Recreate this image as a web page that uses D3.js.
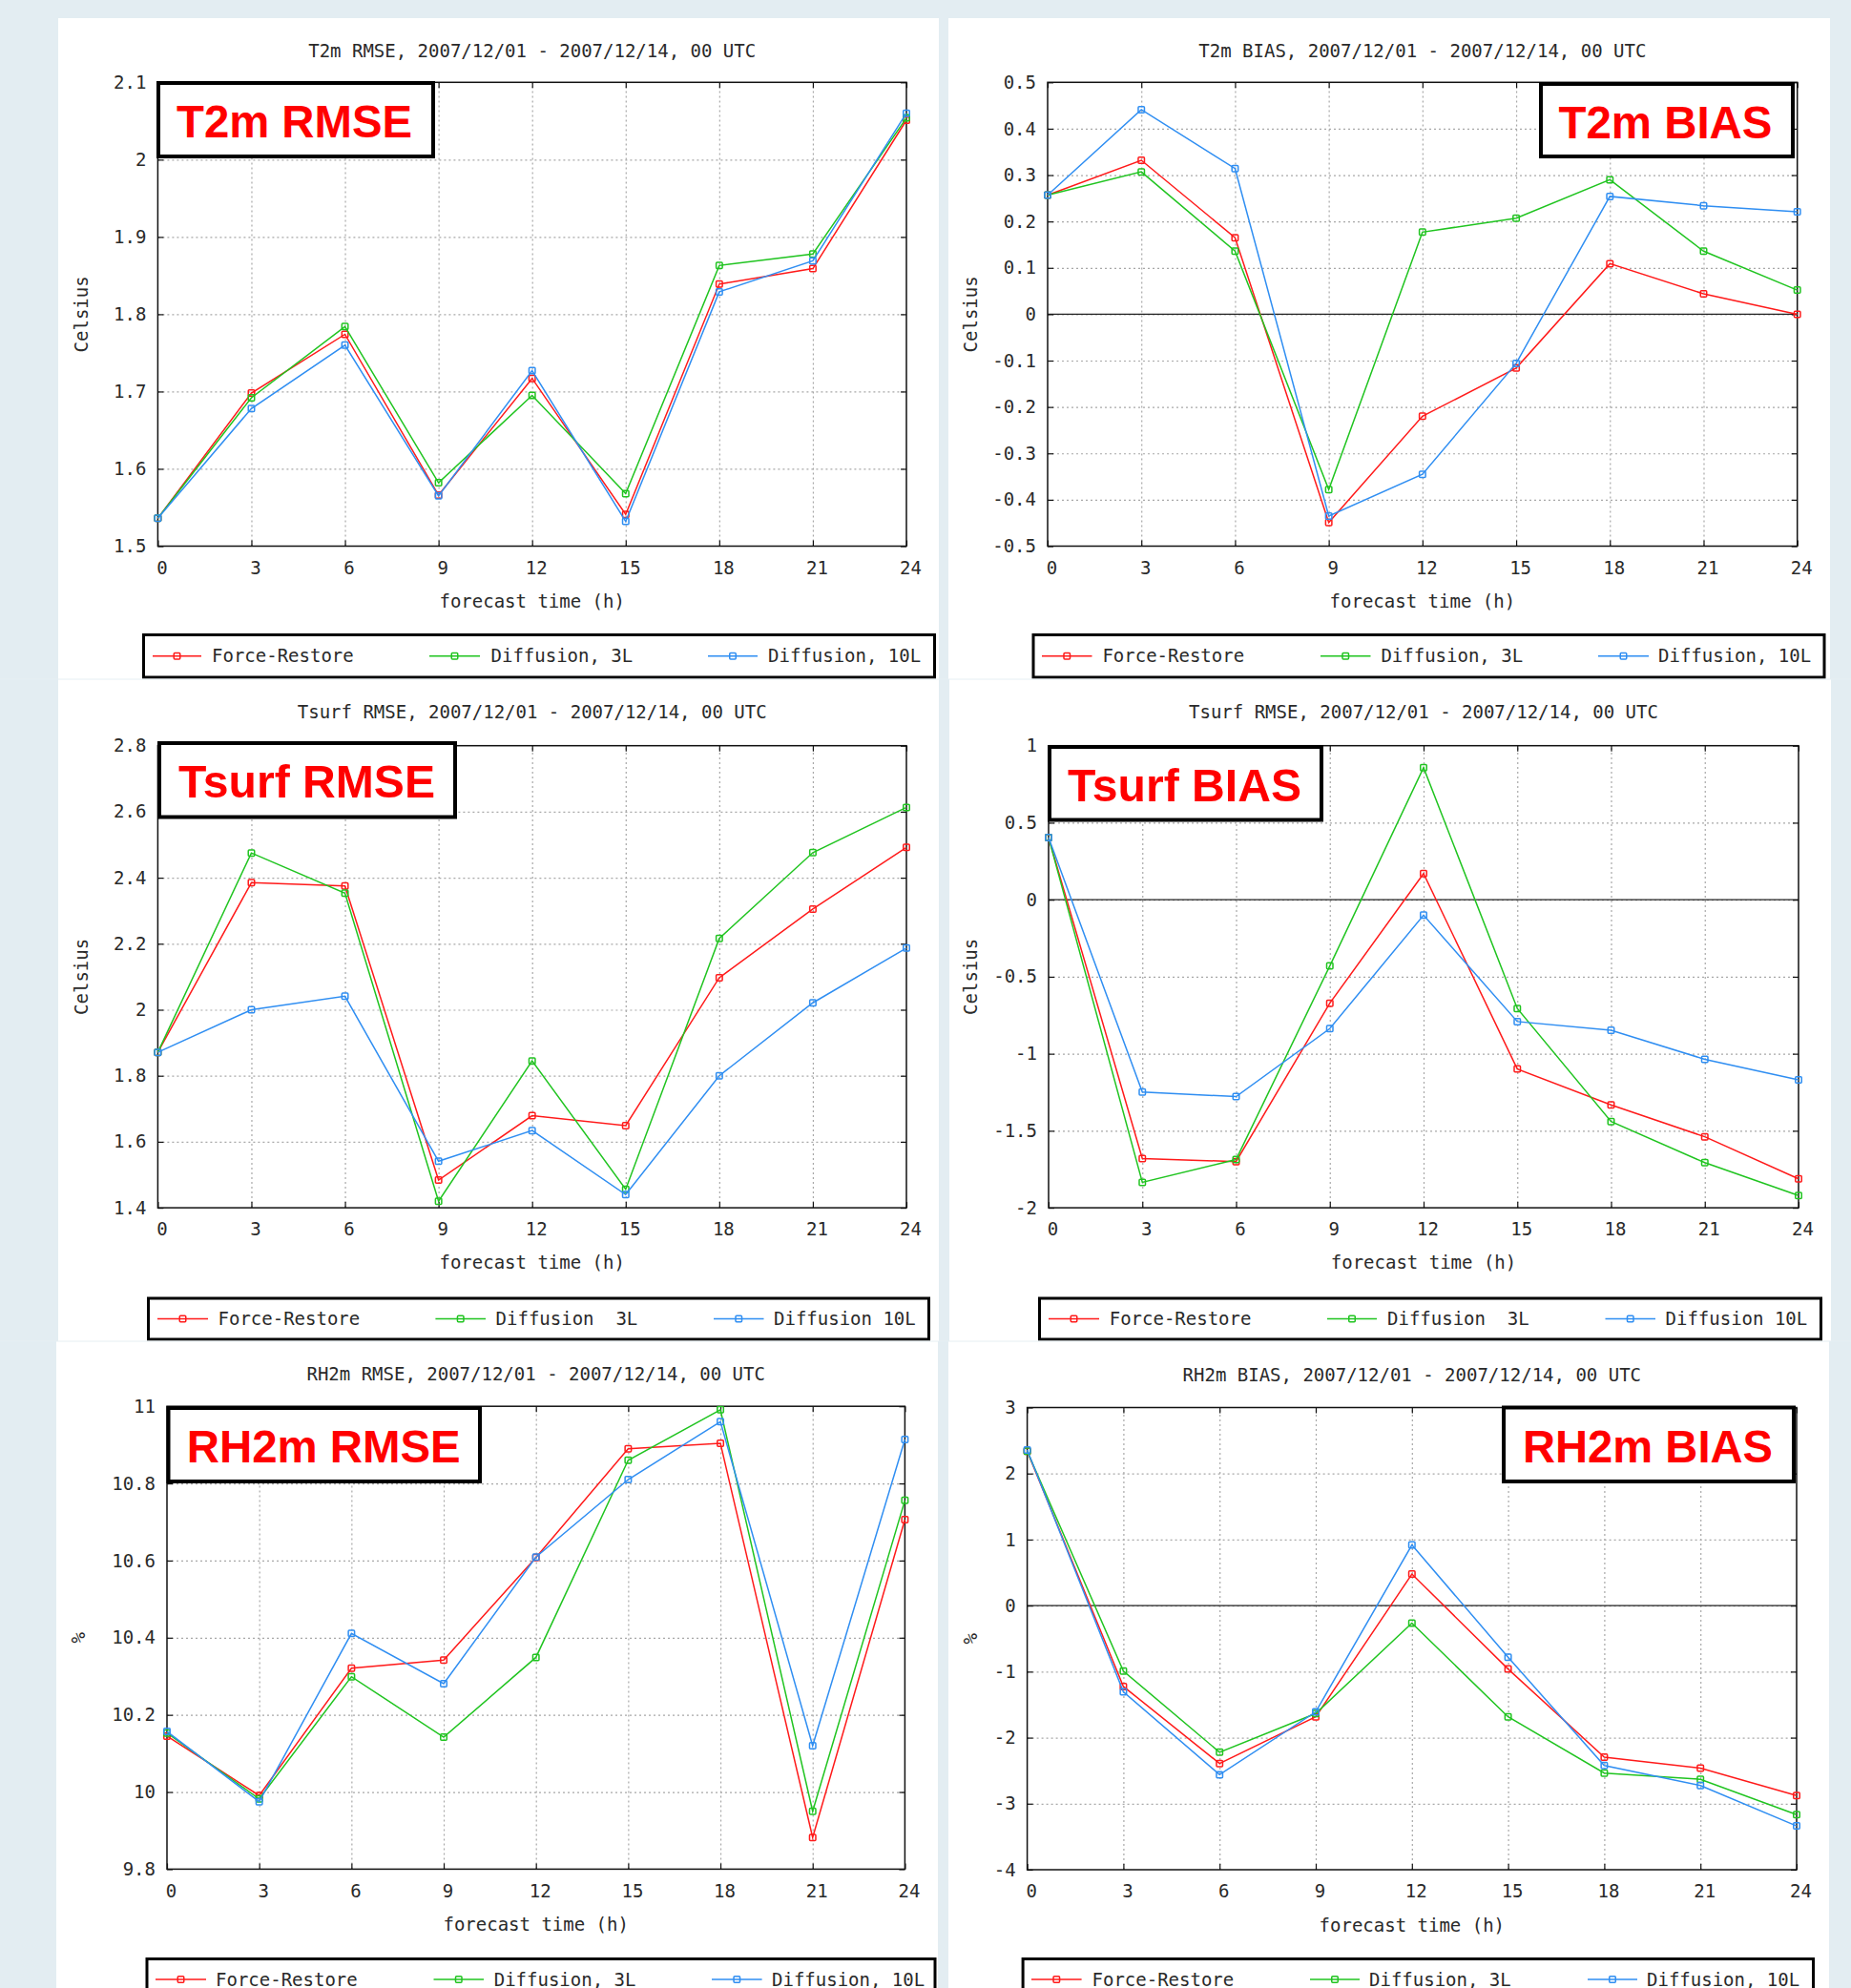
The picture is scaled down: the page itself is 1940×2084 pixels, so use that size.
<!DOCTYPE html>
<html>
<head>
<meta charset="utf-8">
<script src="https://cdn.jsdelivr.net/npm/d3@7"></script>
<style>
  body { margin: 0; background: #e3edf2; }
  svg text { font-family: "DejaVu Sans Mono", monospace; fill: #2a2a2a; }
</style>
</head>
<body>
<div id="chart"></div>
<script>
// forecast hours (x axis)
const hours = [0, 3, 6, 9, 12, 15, 18, 21, 24];

const legendNames = ["Force-Restore", "Diffusion, 3L", "Diffusion, 10L"];
const legendNamesTsurf = ["Force-Restore", "Diffusion  3L", "Diffusion 10L"];
const colors = ["#ff1a1a", "#20c420", "#2f8ef2"];

// T2m RMSE
const t2mRmseTicks = [1.5, 1.6, 1.7, 1.8, 1.9, 2.0, 2.1];
const t2mRmseFR  = [1.536, 1.698, 1.774, 1.566, 1.717, 1.541, 1.839, 1.859, 2.051];
const t2mRmse3L  = [1.536, 1.692, 1.784, 1.582, 1.695, 1.568, 1.863, 1.878, 2.054];
const t2mRmse10L = [1.536, 1.678, 1.760, 1.565, 1.727, 1.532, 1.829, 1.869, 2.060];

// T2m BIAS
const t2mBiasTicks = [-0.5, -0.4, -0.3, -0.2, -0.1, 0, 0.1, 0.2, 0.3, 0.4, 0.5];
const t2mBiasFR  = [0.257, 0.332, 0.165, -0.449, -0.220, -0.116, 0.109, 0.044, 0.000];
const t2mBias3L  = [0.257, 0.307, 0.136, -0.378, 0.177, 0.207, 0.290, 0.136, 0.052];
const t2mBias10L = [0.257, 0.441, 0.314, -0.435, -0.345, -0.106, 0.254, 0.234, 0.221];

// Tsurf RMSE
const tsRmseTicks = [1.4, 1.6, 1.8, 2.0, 2.2, 2.4, 2.6, 2.8];
const tsRmseFR  = [1.871, 2.385, 2.375, 1.484, 1.679, 1.649, 2.097, 2.305, 2.492];
const tsRmse3L  = [1.871, 2.475, 2.353, 1.420, 1.845, 1.456, 2.216, 2.476, 2.613];
const tsRmse10L = [1.871, 2.000, 2.041, 1.541, 1.634, 1.440, 1.800, 2.021, 2.187];

// Tsurf BIAS
const tsBiasTicks = [-2, -1.5, -1, -0.5, 0, 0.5, 1];
const tsBiasFR  = [0.403, -1.680, -1.700, -0.672, 0.170, -1.099, -1.332, -1.539, -1.812];
const tsBias3L  = [0.403, -1.835, -1.687, -0.430, 0.858, -0.706, -1.440, -1.707, -1.920];
const tsBias10L = [0.403, -1.249, -1.278, -0.837, -0.100, -0.791, -0.848, -1.036, -1.170];

// RH2m RMSE
const rhRmseTicks = [9.8, 10, 10.2, 10.4, 10.6, 10.8, 11];
const rhRmseFR  = [10.145, 9.991, 10.321, 10.342, 10.608, 10.890, 10.904, 9.882, 10.706];
const rhRmse3L  = [10.153, 9.982, 10.299, 10.142, 10.349, 10.860, 10.991, 9.950, 10.756];
const rhRmse10L = [10.157, 9.975, 10.411, 10.281, 10.609, 10.810, 10.960, 10.120, 10.914];

// RH2m BIAS
const rhBiasTicks = [-4, -3, -2, -1, 0, 1, 2, 3];
const rhBiasFR  = [2.338, -1.225, -2.391, -1.685, 0.478, -0.960, -2.296, -2.460, -2.876];
const rhBias3L  = [2.338, -0.991, -2.221, -1.634, -0.266, -1.685, -2.536, -2.630, -3.166];
const rhBias10L = [2.357, -1.306, -2.561, -1.609, 0.919, -0.783, -2.422, -2.725, -3.337];

const W = 1940, H = 2084;

const panels = [
  { title: "T2m RMSE, 2007/12/01 - 2007/12/14, 00 UTC", label: "T2m RMSE", ylabel: "Celsius",
    ticks: t2mRmseTicks, series: [t2mRmseFR, t2mRmse3L, t2mRmse10L], names: legendNames, zero: false,
    bg: [61, 19, 984, 712], plot: [165.4, 86.3, 950, 572.5], ylabX: 85,
    titleY: 53, xtickY: 595.5, xlabY: 630,
    box: [164, 85, 456, 166], boxText: [185, 247],
    legend: [149, 664, 981, 711.5], legX: [[160, 211, 222], [450, 503, 514.5], [742, 794, 805]] },
  { title: "T2m BIAS, 2007/12/01 - 2007/12/14, 00 UTC", label: "T2m BIAS", ylabel: "Celsius",
    ticks: t2mBiasTicks, series: [t2mBiasFR, t2mBias3L, t2mBias10L], names: legendNames, zero: true,
    bg: [994, 19, 1918, 712], plot: [1098, 86.3, 1883.7, 572.5], ylabX: 1017,
    titleY: 53, xtickY: 595.5, xlabY: 630,
    box: [1613, 86, 1881, 166], boxText: [1633.5, 224],
    legend: [1081.5, 664, 1913.5, 711.5], legX: [[1092, 1144.5, 1155.4], [1384, 1436.5, 1447.4], [1675, 1728, 1738]] },
  { title: "Tsurf RMSE, 2007/12/01 - 2007/12/14, 00 UTC", label: "Tsurf RMSE", ylabel: "Celsius",
    ticks: tsRmseTicks, series: [tsRmseFR, tsRmse3L, tsRmse10L], names: legendNamesTsurf, zero: false,
    bg: [61, 712, 984, 1406], plot: [165.4, 781.7, 950, 1266.1], ylabX: 85,
    titleY: 746, xtickY: 1289, xlabY: 1323.5,
    box: [165, 777, 479, 858.5], boxText: [187, 269],
    legend: [154, 1359.5, 975, 1405.5], legX: [[165, 218, 228.5], [456.4, 509, 519.6], [748, 800.5, 811]] },
  { title: "Tsurf RMSE, 2007/12/01 - 2007/12/14, 00 UTC", label: "Tsurf BIAS", ylabel: "Celsius",
    ticks: tsBiasTicks, series: [tsBiasFR, tsBias3L, tsBias10L], names: legendNamesTsurf, zero: true,
    bg: [995, 712, 1919, 1406], plot: [1099, 781.7, 1885, 1266.1], ylabX: 1017,
    titleY: 746, xtickY: 1289, xlabY: 1323.5,
    box: [1098, 781, 1387, 861.5], boxText: [1119, 245],
    legend: [1088, 1359.5, 1910, 1405.5], legX: [[1099, 1152, 1162.7], [1391, 1443, 1454], [1682.5, 1735, 1745.5]] },
  { title: "RH2m RMSE, 2007/12/01 - 2007/12/14, 00 UTC", label: "RH2m RMSE", ylabel: "%",
    ticks: rhRmseTicks, series: [rhRmseFR, rhRmse3L, rhRmse10L], names: legendNames, zero: false,
    bg: [59, 1406, 983, 2084], plot: [175, 1474.2, 948.4, 1959.4], ylabX: 82,
    titleY: 1440, xtickY: 1982.5, xlabY: 2017,
    box: [174.5, 1474, 505, 1555], boxText: [195.7, 287],
    legend: [152.5, 2052, 981.5, 2110], legX: [[163, 216, 226], [454.5, 507, 517.7], [746, 798.6, 809]], legY: 2075 },
  { title: "RH2m BIAS, 2007/12/01 - 2007/12/14, 00 UTC", label: "RH2m BIAS", ylabel: "%",
    ticks: rhBiasTicks, series: [rhBiasFR, rhBias3L, rhBias10L], names: legendNames, zero: true,
    bg: [994, 1406, 1917, 2084], plot: [1076.6, 1475.5, 1883, 1960], ylabX: 1017,
    titleY: 1441.5, xtickY: 1983, xlabY: 2018,
    box: [1574, 1473.5, 1882, 1555], boxText: [1596, 262],
    legend: [1070.6, 2052, 1902, 2110], legX: [[1081, 1133.6, 1144.5], [1373, 1425, 1435], [1664, 1716, 1726]], legY: 2075 }
];

const svg = d3.select("#chart").append("svg")
  .attr("width", W)
  .attr("height", H)
  .style("display", "block");

svg.append("rect").attr("width", W).attr("height", H).attr("fill", "#e3edf2");

const fmt = d => String(+(+d).toFixed(1));

function marker(g, cx, cy, color) {
  g.append("rect")
    .attr("x", cx - 3.25).attr("y", cy - 3.25)
    .attr("width", 6.5).attr("height", 6.5)
    .attr("rx", 1)
    .attr("fill", "none")
    .attr("stroke", color)
    .attr("stroke-width", 1.5);
}

panels.forEach(p => {
  const g = svg.append("g");
  const [bx0, by0, bx1, by1] = p.bg;
  g.append("rect")
    .attr("x", bx0).attr("y", by0)
    .attr("width", bx1 - bx0).attr("height", by1 - by0)
    .attr("fill", "white");

  const [x0, y0, x1, y1] = p.plot;
  const x = d3.scaleLinear().domain([0, 24]).range([x0, x1]);
  const y = d3.scaleLinear().domain([p.ticks[0], p.ticks[p.ticks.length - 1]]).range([y1, y0]);

  // dotted grid
  const gridX = g.append("g")
    .attr("transform", `translate(0,${y1})`)
    .call(d3.axisBottom(x).tickValues(hours.slice(1, -1)).tickSize(-(y1 - y0)).tickFormat(""));
  const gridY = g.append("g")
    .attr("transform", `translate(${x0},0)`)
    .call(d3.axisLeft(y).tickValues(p.ticks.slice(1, -1)).tickSize(-(x1 - x0)).tickFormat(""));
  [gridX, gridY].forEach(gr => {
    gr.select(".domain").remove();
    gr.selectAll("line")
      .attr("stroke", "#a8a8a8")
      .attr("stroke-width", 1.2)
      .attr("stroke-dasharray", "2,3");
  });

  if (p.zero) {
    g.append("line")
      .attr("x1", x0).attr("x2", x1)
      .attr("y1", y(0)).attr("y2", y(0))
      .attr("stroke", "#222")
      .attr("stroke-width", 1.3);
  }

  // inward ticks on all four sides
  const tickAxes = [
    [d3.axisBottom(x).tickValues(hours), `translate(0,${y1})`],
    [d3.axisTop(x).tickValues(hours), `translate(0,${y0})`],
    [d3.axisLeft(y).tickValues(p.ticks), `translate(${x0},0)`],
    [d3.axisRight(y).tickValues(p.ticks), `translate(${x1},0)`]
  ];
  tickAxes.forEach(([ax, tr]) => {
    const t = g.append("g").attr("transform", tr).call(ax.tickSize(-6).tickFormat(""));
    t.select(".domain").remove();
    t.selectAll("line").attr("stroke", "#111").attr("stroke-width", 1.2);
  });

  // tick labels
  const xl = g.append("g")
    .attr("transform", `translate(0,${y1})`)
    .call(d3.axisBottom(x).tickValues(hours).tickSize(0).tickPadding(p.xtickY - y1 - 7));
  xl.select(".domain").remove();
  xl.selectAll("text").attr("font-size", 19).attr("dx", 4).attr("fill", "#2a2a2a")
    .attr("font-family", "DejaVu Sans Mono, monospace");

  const yl = g.append("g")
    .attr("transform", `translate(${x0},0)`)
    .call(d3.axisLeft(y).tickValues(p.ticks).tickSize(0).tickPadding(12).tickFormat(fmt));
  yl.select(".domain").remove();
  yl.selectAll("text").attr("font-size", 19).attr("fill", "#2a2a2a")
    .attr("font-family", "DejaVu Sans Mono, monospace");

  // border
  g.append("rect")
    .attr("x", x0).attr("y", y0)
    .attr("width", x1 - x0).attr("height", y1 - y0)
    .attr("fill", "none")
    .attr("stroke", "#111")
    .attr("stroke-width", 1.5);

  // titles
  g.append("text")
    .attr("x", (x0 + x1) / 2).attr("y", p.titleY).attr("dy", "0.35em")
    .attr("text-anchor", "middle").attr("font-size", 19)
    .text(p.title);
  g.append("text")
    .attr("x", (x0 + x1) / 2).attr("y", p.xlabY).attr("dy", "0.35em")
    .attr("text-anchor", "middle").attr("font-size", 19)
    .text("forecast time (h)");
  g.append("text")
    .attr("transform", `translate(${p.ylabX},${(y0 + y1) / 2}) rotate(-90)`)
    .attr("dy", "0.35em")
    .attr("text-anchor", "middle").attr("font-size", 19)
    .text(p.ylabel);

  // series
  const line = d3.line().x((d, i) => x(hours[i])).y(d => y(d));
  p.series.forEach((s, k) => {
    g.append("path")
      .datum(s)
      .attr("d", line)
      .attr("fill", "none")
      .attr("stroke", colors[k])
      .attr("stroke-width", 1.5);
    s.forEach((v, i) => marker(g, x(hours[i]), y(v), colors[k]));
  });

  // big label box
  const [lx0, ly0, lx1, ly1] = p.box;
  g.append("rect")
    .attr("x", lx0 + 2).attr("y", ly0 + 2)
    .attr("width", lx1 - lx0 - 4).attr("height", ly1 - ly0 - 4)
    .attr("fill", "white")
    .attr("stroke", "#000")
    .attr("stroke-width", 4);
  g.append("text")
    .attr("x", p.boxText[0]).attr("y", ly0 + 59)
    .attr("textLength", p.boxText[1])
    .attr("lengthAdjust", "spacingAndGlyphs")
    .style("font-family", "'Liberation Sans', Arial, sans-serif")
    .style("font-weight", "bold")
    .style("font-size", "48px")
    .style("fill", "#ff0000")
    .text(p.label);

  // legend
  const [gx0, gy0, gx1, gy1] = p.legend;
  g.append("rect")
    .attr("x", gx0 + 1.5).attr("y", gy0 + 1.5)
    .attr("width", gx1 - gx0 - 3).attr("height", gy1 - gy0 - 3)
    .attr("fill", "white")
    .attr("stroke", "#000")
    .attr("stroke-width", 3);
  const ly = p.legY || (gy0 + gy1) / 2;
  p.names.forEach((name, k) => {
    const [a, b, tx] = p.legX[k];
    g.append("line")
      .attr("x1", a).attr("x2", b).attr("y1", ly).attr("y2", ly)
      .attr("stroke", colors[k]).attr("stroke-width", 1.5);
    marker(g, (a + b) / 2, ly, colors[k]);
    g.append("text")
      .attr("x", tx).attr("y", ly).attr("dy", "0.35em")
      .attr("font-size", 19)
      .style("white-space", "pre")
      .text(name);
  });
});

// faint separators between rows
[712, 1406].forEach(yy => {
  svg.append("line")
    .attr("x1", 0).attr("x2", W).attr("y1", yy).attr("y2", yy)
    .attr("stroke", "#e6eff3").attr("stroke-width", 1);
});
</script>
</body>
</html>
